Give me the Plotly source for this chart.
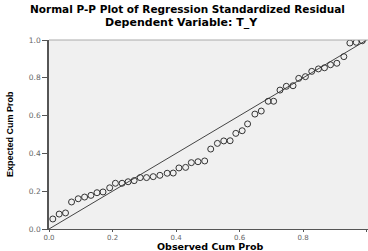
import plotly.graph_objects as go

observed = [0.012,0.032,0.052,0.071,0.092,0.112,0.132,0.151,0.170,0.191,
            0.209,0.230,0.249,0.268,0.287,0.307,0.328,0.349,0.372,0.391,
            0.409,0.430,0.448,0.469,0.490,0.509,0.530,0.550,0.570,0.588,
            0.608,0.625,0.648,0.668,0.690,0.707,0.727,0.747,0.768,0.786,
            0.807,0.827,0.848,0.867,0.886,0.906,0.928,0.947,0.967,0.986]
expected = [0.053,0.079,0.085,0.143,0.160,0.169,0.178,0.192,0.196,0.218,
            0.242,0.242,0.250,0.256,0.272,0.272,0.277,0.284,0.295,0.296,
            0.323,0.326,0.351,0.356,0.360,0.423,0.453,0.466,0.467,0.506,
            0.520,0.556,0.608,0.624,0.676,0.676,0.735,0.755,0.758,0.797,
            0.806,0.834,0.847,0.853,0.869,0.877,0.912,0.984,0.988,0.996]
ref_line = [0, 1]
x_ticks = [0, 0.2, 0.4, 0.6, 0.8, 1]
x_tick_labels = ["0.0", "0.2", "0.4", "0.6", "0.8", "1"]
y_ticks = [0, 0.2, 0.4, 0.6, 0.8, 1.0]
y_tick_labels = ["0.0", "0.2", "0.4", "0.6", "0.8", "1.0"]

title_font = "DejaVu Sans, Arial, sans-serif"

fig = go.Figure()
fig.add_trace(go.Scatter(x=ref_line, y=ref_line, mode="lines",
                         line=dict(color="#444444", width=1), hoverinfo="skip"))
fig.add_trace(go.Scatter(x=observed, y=expected, mode="markers",
                         marker=dict(symbol="circle-open", size=6,
                                     color="#333333", line=dict(width=1))))

fig.update_layout(
    width=368, height=251,
    margin=dict(l=49, r=0, t=40, b=22),
    paper_bgcolor="white", plot_bgcolor="#f0f0f0",
    showlegend=False,
    font=dict(family="Arial, Liberation Sans, sans-serif"),
    xaxis=dict(range=[0, 1.004], tickvals=x_ticks, ticktext=x_tick_labels,
               showgrid=False, zeroline=False, showline=True, linecolor="#555555",
               linewidth=1, ticks="outside", ticklen=2, tickcolor="#555555",
               tickfont=dict(size=7, color="#666666", family=title_font)),
    yaxis=dict(range=[0, 1], tickvals=y_ticks, ticktext=y_tick_labels,
               showgrid=False, zeroline=False, showline=True, linecolor="#555555",
               linewidth=1.5, ticks="outside", ticklen=5, tickcolor="#555555",
               tickfont=dict(size=7.5, color="#666666", family=title_font)),
    shapes=[dict(type="line", xref="paper", yref="paper", x0=0, x1=1, y0=1, y1=1,
                 line=dict(color="#aaaaaa", width=1))],
    annotations=[
        dict(text="<b>Normal P-P Plot of Regression Standardized Residual</b>",
             xref="paper", yref="paper", x=(187 - 49) / 319, y=(229 - 9) / 189,
             showarrow=False, xanchor="center", yanchor="middle",
             font=dict(size=10.5, color="black", family=title_font)),
        dict(text="<b>Dependent Variable: T_Y</b>",
             xref="paper", yref="paper", x=(181 - 49) / 319, y=(229 - 23) / 189,
             showarrow=False, xanchor="center", yanchor="middle",
             font=dict(size=11, color="black", family=title_font)),
        dict(text="<b>Observed Cum Prob</b>",
             xref="paper", yref="paper", x=(210 - 49) / 319, y=(229 - 246.5) / 189,
             showarrow=False, xanchor="center", yanchor="middle",
             font=dict(size=9.5, color="black", family=title_font)),
        dict(text="<b>Expected Cum Prob</b>", textangle=-90,
             xref="paper", yref="paper", x=(10 - 49) / 319, y=(229 - 134) / 189,
             showarrow=False, xanchor="center", yanchor="middle",
             font=dict(size=9, color="black", family="Liberation Sans Narrow, Arial Narrow, Arial")),
    ],
)

fig.write_html("out.html", config={"displayModeBar": False},
               post_script="document.body.style.margin='0px';document.body.style.overflow='hidden';")
